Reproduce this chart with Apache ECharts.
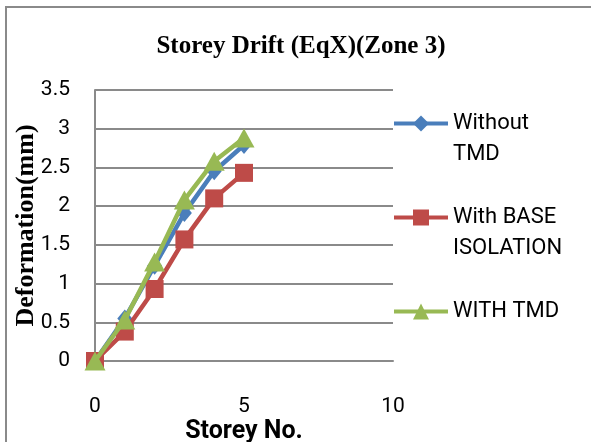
<!DOCTYPE html>
<html>
<head>
<meta charset="utf-8">
<script src="https://cdn.jsdelivr.net/npm/echarts@6/dist/echarts.min.js"></script>
<style>
  html, body { margin: 0; padding: 0; background: #fff; }
  #chart { width: 591px; height: 442px; }
</style>
</head>
<body>
<div id="chart"></div>
<script>
// Storey numbers and drift values (mm) for each configuration
const storeys = [0, 1, 2, 3, 4, 5];
const withoutTMD = [0, 0.55, 1.23, 1.91, 2.45, 2.79];
const withBaseIsolation = [0, 0.38, 0.93, 1.57, 2.1, 2.43];
const withTMD = [0, 0.53, 1.28, 2.08, 2.58, 2.88];

const seriesNames = ['Without TMD', 'With BASE ISOLATION', 'WITH TMD'];
const legendLabels = [' \nWithout\nTMD', ' \nWith BASE\nISOLATION', 'WITH TMD'];

const yTicks = [0, 0.5, 1, 1.5, 2, 2.5, 3, 3.5];
const xTicks = [0, 5, 10];

const pairs = (xs, ys) => xs.map((x, i) => [x, ys[i]]);

const sans = 'Roboto, "Noto Sans", sans-serif';
const serif = '"Liberation Serif", "DejaVu Serif", serif';

const chart = echarts.init(document.getElementById('chart'), null, { renderer: 'canvas' });

const legendTops = [77, 171, 296];
const colors = ['#4A7EBB', '#BE4B48', '#98B954'];
const symbols = ['diamond', 'rect', 'triangle'];
const symbolSizes = [[15, 18], 18, [21, 19]];
const values = [withoutTMD, withBaseIsolation, withTMD];

chart.setOption({
  animation: false,
  backgroundColor: '#fff',
  graphic: [{
    type: 'rect',
    shape: { x: 6, y: 7, width: 640, height: 480 },
    style: { fill: 'none', stroke: '#8a8a8a', lineWidth: 2 },
    silent: true,
    z: 100
  }],
  title: {
    text: 'Storey Drift (EqX)(Zone 3)',
    left: 296,
    top: 29,
    textAlign: 'center',
    textStyle: { fontFamily: serif, fontWeight: 'bold', fontSize: 25, color: '#000' }
  },
  legend: seriesNames.map((name, i) => ({
    data: [name],
    left: 392,
    top: legendTops[i],
    padding: 0,
    itemWidth: 54,
    itemHeight: 20,
    lineStyle: { width: 4 },
    formatter: () => legendLabels[i],
    textStyle: { fontFamily: sans, fontSize: 22, lineHeight: 31, color: '#000' }
  })),
  grid: { left: 95, right: 198, top: 90, bottom: 81, outerBoundsMode: 'none', containLabel: false },
  xAxis: {
    type: 'value',
    min: xTicks[0],
    max: xTicks[xTicks.length - 1],
    interval: xTicks[1] - xTicks[0],
    name: 'Storey No.',
    nameLocation: 'middle',
    nameGap: 58,
    nameMoveOverlap: false,
    nameTextStyle: { fontFamily: '"Liberation Sans Narrow", ' + sans, fontWeight: 'bold', fontSize: 25, color: '#000' },
    axisLine: { onZero: false, lineStyle: { color: '#8a8a8a', width: 2 } },
    axisTick: { show: false },
    splitLine: { show: false },
    axisLabel: { margin: 35, fontFamily: sans, fontSize: 21, color: '#000' }
  },
  yAxis: {
    type: 'value',
    min: yTicks[0],
    max: yTicks[yTicks.length - 1],
    interval: yTicks[1] - yTicks[0],
    name: 'Deformation(mm)',
    nameLocation: 'middle',
    nameGap: 56,
    nameMoveOverlap: false,
    nameTextStyle: { fontFamily: serif, fontWeight: 'bold', fontSize: 26, color: '#000' },
    axisLine: { show: true, lineStyle: { color: '#8a8a8a', width: 2 } },
    axisTick: { show: false },
    splitLine: { lineStyle: { color: '#8a8a8a', width: 2 } },
    axisLabel: { margin: 25, fontFamily: sans, fontSize: 21, color: '#000' }
  },
  series: seriesNames.map((name, i) => ({
    name,
    type: 'line',
    data: pairs(storeys, values[i]),
    symbol: symbols[i],
    symbolSize: symbolSizes[i],
    lineStyle: { color: colors[i], width: 4.5 },
    itemStyle: { color: colors[i] },
    z: 2 + i
  }))
});
</script>
</body>
</html>
